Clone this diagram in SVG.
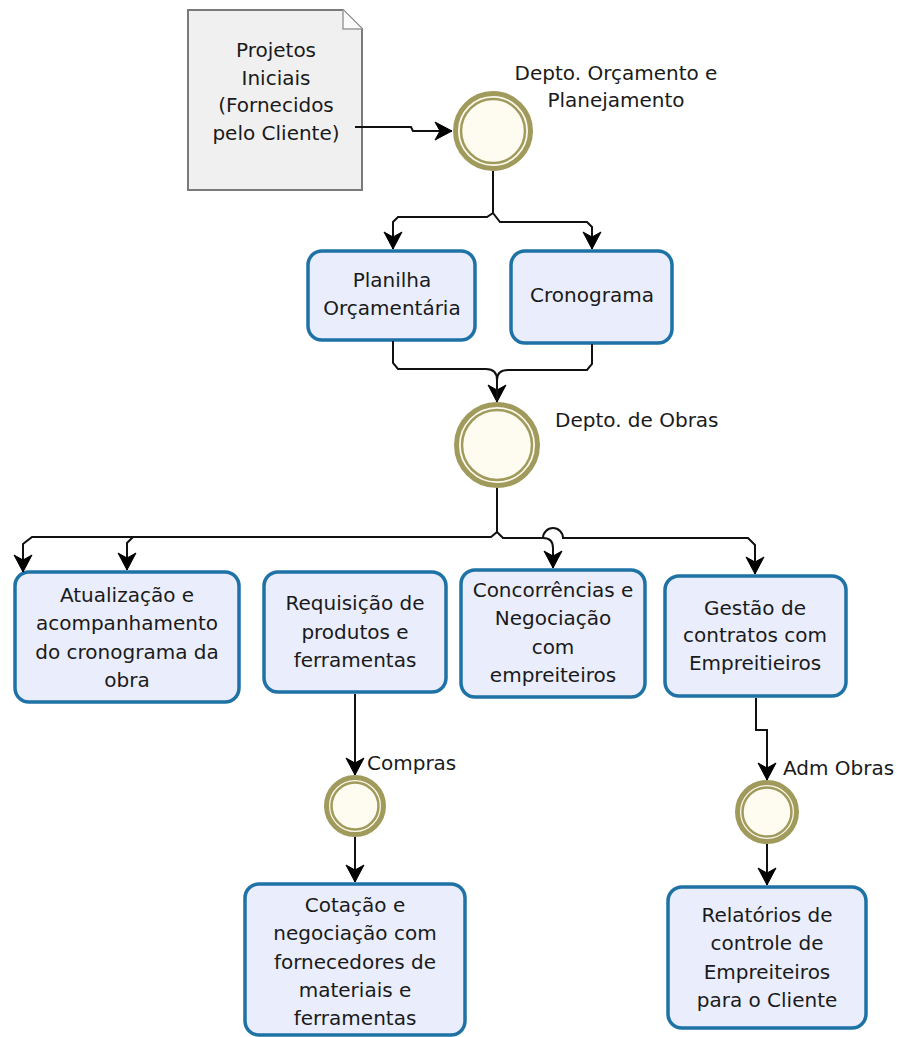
<svg xmlns="http://www.w3.org/2000/svg" width="898" height="1037" viewBox="0 0 898 1037">
<defs>
<style>
.box{fill:#e9edfc;stroke:#1e72a5;stroke-width:3.5}
.t{font-family:"DejaVu Sans",Verdana,sans-serif;font-size:20px;fill:#1a1a1a;text-anchor:middle}
.lbl{font-family:"DejaVu Sans",Verdana,sans-serif;font-size:20px;fill:#1a1a1a}
.c{fill:none;stroke:#111;stroke-width:2}
.ring{fill:#fdf9ec;stroke:#a09b5c;stroke-width:5}
.inner{fill:#fefbf0;stroke:#a09b5c;stroke-width:2.5}
</style>
<marker id="arr" viewBox="-19 -10 20 20" refX="0" refY="0" markerWidth="20" markerHeight="20" markerUnits="userSpaceOnUse" orient="auto">
<path d="M0,0 L-17,-9 L-12,0 L-17,9 Z" fill="#000" stroke="#000" stroke-width="1" stroke-linejoin="round"/>
</marker>
</defs>

<g id="doc">
<path d="M188,10 H343 L362,29 V190 H188 Z" fill="#f0f0f0" stroke="#7a7a7a" stroke-width="2"/>
<path d="M343,10 V29 H362" fill="#fafafa" stroke="#9a9a9a" stroke-width="1.5"/>
<text class="t" x="276" y="57">Projetos</text>
<text class="t" x="276" y="84.5">Iniciais</text>
<text class="t" x="276" y="112">(Fornecidos</text>
<text class="t" x="276" y="139.5">pelo Cliente)</text>
</g>

<g id="ev1">
<circle class="ring" cx="493" cy="131" r="37.5"/>
<circle class="inner" cx="493" cy="131" r="32"/>
<text class="t" x="616" y="80">Depto. Orçamento e</text>
<text class="t" x="616" y="107">Planejamento</text>
</g>

<g id="planilha">
<rect class="box" x="308" y="251" width="167" height="89" rx="14"/>
<text class="t" x="392" y="287">Planilha</text>
<text class="t" x="392" y="315">Orçamentária</text>
</g>

<g id="cronograma">
<rect class="box" x="511" y="251" width="161" height="92" rx="14"/>
<text class="t" x="592" y="302">Cronograma</text>
</g>

<g id="ev2">
<circle class="ring" cx="497" cy="445" r="40.5"/>
<circle class="inner" cx="497" cy="445" r="35"/>
<text class="lbl" x="555" y="427">Depto. de Obras</text>
</g>

<g id="atualizacao">
<rect class="box" x="15" y="572" width="224" height="130" rx="14"/>
<text class="t" x="127" y="602">Atualização e</text>
<text class="t" x="127" y="630">acompanhamento</text>
<text class="t" x="127" y="659">do cronograma da</text>
<text class="t" x="127" y="687">obra</text>
</g>

<g id="requisicao">
<rect class="box" x="264" y="572" width="182" height="120" rx="14"/>
<text class="t" x="355" y="610">Requisição de</text>
<text class="t" x="355" y="639">produtos e</text>
<text class="t" x="355" y="667">ferramentas</text>
</g>

<g id="concorrencias">
<rect class="box" x="461" y="570" width="184" height="127" rx="14"/>
<text class="t" x="553" y="597">Concorrências e</text>
<text class="t" x="553" y="625">Negociação</text>
<text class="t" x="553" y="654">com</text>
<text class="t" x="553" y="682">empreiteiros</text>
</g>

<g id="gestao">
<rect class="box" x="665" y="576" width="181" height="120" rx="14"/>
<text class="t" x="755" y="615">Gestão de</text>
<text class="t" x="755" y="642">contratos com</text>
<text class="t" x="755" y="670">Empreitieiros</text>
</g>

<g id="compras">
<circle class="ring" cx="355" cy="806" r="28.5"/>
<circle class="inner" cx="355" cy="806" r="23.5"/>
<text class="lbl" x="367" y="770">Compras</text>
</g>

<g id="cotacao">
<rect class="box" x="245" y="884" width="220" height="151" rx="14"/>
<text class="t" x="355" y="912">Cotação e</text>
<text class="t" x="355" y="940">negociação com</text>
<text class="t" x="355" y="969">fornecedores de</text>
<text class="t" x="355" y="997">materiais e</text>
<text class="t" x="355" y="1025">ferramentas</text>
</g>

<g id="admobras">
<circle class="ring" cx="767" cy="812" r="29.5"/>
<circle class="inner" cx="767" cy="812" r="24.5"/>
<text class="lbl" x="783" y="775">Adm Obras</text>
</g>

<g id="relatorios">
<rect class="box" x="668" y="887" width="198" height="141" rx="14"/>
<text class="t" x="767" y="922">Relatórios de</text>
<text class="t" x="767" y="950">controle de</text>
<text class="t" x="767" y="979">Empreiteiros</text>
<text class="t" x="767" y="1007">para o Cliente</text>
</g>

<g id="connectors">
<path class="c" d="M355,127 H411 L413,131 H452" marker-end="url(#arr)"/>
<path class="c" d="M493,171 V213 L487,217 H398 L393,222 V249" marker-end="url(#arr)"/>
<path class="c" d="M493,171 V213 L500,222 H587 L592,227 V249" marker-end="url(#arr)"/>
<path class="c" d="M393,341 V363 L398,369 H486 Q497,369 497,380 V402" marker-end="url(#arr)"/>
<path class="c" d="M592,344 V364 L587,370 H508 Q497,370 497,380 V402"/>
<path class="c" d="M497,488 V532 L491,537 H32 L23,544 V572" marker-end="url(#arr)"/>
<path class="c" d="M491,537 H133 L127,543 V570" marker-end="url(#arr)"/>
<path class="c" d="M497,532 L503,538 H543 Q553,538 553,548 V568" marker-end="url(#arr)"/>
<path class="c" d="M503,538 H543 A10,10 0 0 1 563,538 H748 L755,545 V574" marker-end="url(#arr)"/>
<path class="c" d="M355,694 V775" marker-end="url(#arr)"/>
<path class="c" d="M355,837 V882" marker-end="url(#arr)"/>
<path class="c" d="M756,698 V730 H767 V780" marker-end="url(#arr)"/>
<path class="c" d="M767,844 V885" marker-end="url(#arr)"/>
</g>
</svg>
